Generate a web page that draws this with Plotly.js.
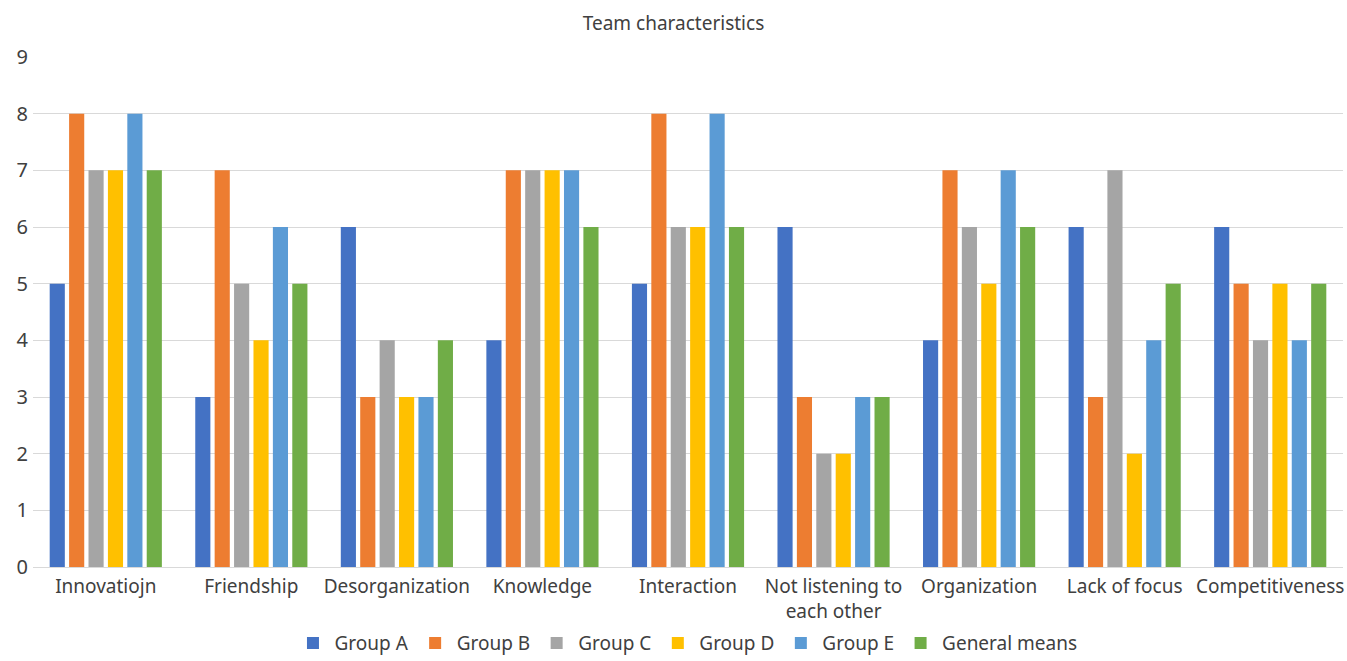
<!DOCTYPE html>
<html>
<head>
<meta charset="utf-8">
<script src="https://cdn.plot.ly/plotly-3.0.1.min.js"></script>
<style>html,body{margin:0;padding:0;background:#fff;}#chart{width:1347px;height:661px;}</style>
</head>
<body>
<div id="chart"></div>
<script>
const categories = ["Innovatiojn", "Friendship", "Desorganization", "Knowledge", "Interaction", "Not listening to<br>each other", "Organization", "Lack of focus", "Competitiveness"];
const seriesNames = ["Group A", "Group B", "Group C", "Group D", "Group E", "General means"];
const groupA = [5, 3, 6, 4, 5, 6, 4, 6, 6];
const groupB = [8, 7, 3, 7, 8, 3, 7, 3, 5];
const groupC = [7, 5, 4, 7, 6, 2, 6, 7, 4];
const groupD = [7, 4, 3, 7, 6, 2, 5, 2, 5];
const groupE = [8, 6, 3, 7, 8, 3, 7, 4, 4];
const generalMeans = [7, 5, 4, 6, 6, 3, 6, 5, 5];
const yTicks = [0, 1, 2, 3, 4, 5, 6, 7, 8, 9];

const colors = ["#4472C4", "#ED7D31", "#A5A5A5", "#FFC000", "#5B9BD5", "#70AD47"];
const values = [groupA, groupB, groupC, groupD, groupE, generalMeans];
const FONT = "Noto Sans, sans-serif";

const data = values.map((v, i) => ({
  type: "bar",
  name: seriesNames[i],
  x: categories,
  y: v,
  marker: {color: colors[i]}
}));

const layout = {
  width: 1347, height: 661,
  paper_bgcolor: "#fff", plot_bgcolor: "#fff",
  margin: {l: 33, r: 4, t: 57, b: 94},
  font: {family: FONT, color: "#404040", size: 19},
  title: {text: "Team characteristics", font: {family: FONT, size: 19, color: "#404040"}, x: 0.5, xanchor: "center", y: 0.965, yanchor: "middle"},
  barmode: "group",
  bargap: 0.2,
  bargroupgap: 0.22,
  showlegend: true,
  legend: {orientation: "h", x: 0.51, xanchor: "center", xref: "container", yref: "container", y: 0.027, yanchor: "middle", itemwidth: 33, font: {family: FONT, size: 19, color: "#404040"}, traceorder: "normal"},
  xaxis: {showgrid: false, showline: false, ticks: "", ticklabelstandoff: 6, tickfont: {family: FONT, size: 19, color: "#404040"}, automargin: false},
  yaxis: {range: [0, 9], tickvals: yTicks, showgrid: true, gridcolor: "#d9d9d9", gridwidth: 1, zeroline: true, zerolinecolor: "#d9d9d9", showline: false, ticks: "", ticklabelstandoff: 4, tickfont: {family: FONT, size: 20, color: "#404040"}, automargin: false}
};

Plotly.newPlot("chart", data, layout, {displayModeBar: false, staticPlot: true});
</script>
</body>
</html>
